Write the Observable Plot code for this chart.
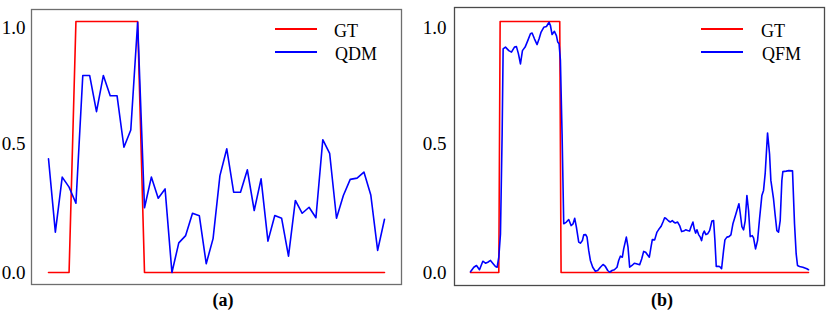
<!DOCTYPE html>
<html>
<head>
<meta charset="utf-8">
<script src="https://cdn.jsdelivr.net/npm/d3@7"></script>
<script src="https://cdn.jsdelivr.net/npm/@observablehq/plot@0.6"></script>
<style>
  body { margin: 0; background: white; }
  #wrap { position: relative; width: 831px; height: 317px; background: white; font-family: "Liberation Serif", serif; }
  .panel { position: absolute; top: 0; }
  .panel svg text { font-family: "Liberation Serif", serif !important; font-size: 19px !important; }
  .lg-line { position: absolute; height: 2px; width: 42px; }
  .lg-text { position: absolute; font-size: 18px; line-height: 18px; color: #000; white-space: nowrap; }
  .cap { position: absolute; font-family: "Liberation Serif", serif; font-size: 18px; line-height: 18px; font-weight: bold; transform: translateX(-50%); color: #000; }
</style>
</head>
<body>
<div id="wrap">
  <div id="pa" class="panel" style="left:0px"></div>
  <div id="pb" class="panel" style="left:415px"></div>

  <div class="lg-line" style="left:275px;top:28px;background:#ff0000"></div>
  <div class="lg-text" style="left:334px;top:22px">GT</div>
  <div class="lg-line" style="left:275px;top:51px;background:#0000ff"></div>
  <div class="lg-text" style="left:335px;top:45px">QDM</div>

  <div class="lg-line" style="left:701px;top:28px;background:#ff0000"></div>
  <div class="lg-text" style="left:761px;top:22px">GT</div>
  <div class="lg-line" style="left:701px;top:51px;background:#0000ff"></div>
  <div class="lg-text" style="left:762px;top:45px">QFM</div>

  <div class="cap" style="left:223px;top:291px">(a)</div>
  <div class="cap" style="left:662px;top:291px">(b)</div>
</div>
<script>
// ---------- Panel (a): GT vs QDM ----------
const framesA = d3.range(50);
const gtA = [0,0,0,0,1,1,1,1,1,1,1,1,1,1,0,0,0,0,0,0,0,0,0,0,0,0,0,0,0,0,0,0,0,0,0,0,0,0,0,0,0,0,0,0,0,0,0,0,0,0];
const qdm = [0.453,0.161,0.380,0.340,0.276,0.785,0.785,0.641,0.785,0.704,
             0.704,0.499,0.568,0.997,0.258,0.380,0.296,0.333,0.000,0.118,
             0.147,0.236,0.226,0.035,0.135,0.386,0.493,0.320,0.320,0.409,
             0.247,0.373,0.125,0.227,0.216,0.065,0.287,0.236,0.260,0.218,
             0.529,0.475,0.216,0.307,0.371,0.376,0.400,0.309,0.088,0.212];

// ---------- Panel (b): GT vs QFM ----------
const gtBFrames = [0, 17, 17.8, 53.6, 54.4, 203];
const gtB = [0, 0, 1, 1, 0, 0];
const qfmFrames = [0,2.0,3.6,5.4,7.4,9.0,10.4,12.0,13.6,15.0,16.0,17.0,18.0,19.0,19.6,21.0,23.0,24.6,26.4,27.6,
  28.8,30.0,31.2,32.8,34.4,36.0,37.0,38.4,40.0,41.2,42.4,44.0,45.6,47.2,48.0,49.0,50.4,51.6,52.4,53.2,
  54.0,55.0,56.0,57.6,59.0,60.4,61.6,62.6,63.6,65.0,66.0,67.2,68.0,69.2,70.0,71.0,72.0,73.4,75.0,76.4,
  78.0,79.6,81.0,82.4,83.6,85.0,86.4,88.0,89.0,90.0,91.2,92.0,93.6,94.6,95.6,97.0,98.4,99.6,101.6,102.8,
  104.0,105.2,106.4,107.4,108.4,109.2,110.6,112.0,113.2,114.4,115.6,116.6,117.6,119.0,120.0,121.2,122.0,123.0,124.4,125.6,
  126.8,128.0,129.2,130.4,131.6,132.4,133.6,134.4,135.2,136.0,137.0,138.0,138.8,139.6,140.4,141.4,142.4,143.6,145.0,146.0,
  146.8,147.6,148.6,149.6,150.8,152.0,152.8,154.0,155.2,156.4,157.6,158.8,160.0,161.2,162.0,163.0,164.0,165.0,166.0,167.0,
  168.0,169.2,170.0,171.2,172.4,173.6,175.0,176.0,177.0,178.4,179.6,180.4,182.0,183.0,184.0,185.0,186.0,187.0,187.6,189.6,
  191.2,193.4,194.6,195.6,196.4,197.6,199.6,202.0,203.0];
const qfm = [0.003,0.021,0.028,0.011,0.045,0.037,0.041,0.048,0.035,0.024,0.021,0.061,0.154,0.552,0.891,0.898,0.884,0.878,0.898,0.900,
  0.871,0.831,0.884,0.898,0.924,0.951,0.954,0.931,0.908,0.931,0.958,0.977,0.980,0.997,0.984,0.948,0.961,0.944,0.918,0.911,
  0.845,0.552,0.194,0.201,0.211,0.187,0.194,0.216,0.181,0.121,0.117,0.127,0.150,0.151,0.141,0.088,0.048,0.021,0.005,0.008,
  0.021,0.032,0.024,0.008,0.001,0.008,0.011,0.021,0.048,0.065,0.061,0.094,0.141,0.101,0.021,0.028,0.037,0.035,0.031,0.054,
  0.084,0.081,0.070,0.061,0.101,0.131,0.130,0.161,0.173,0.183,0.201,0.218,0.214,0.205,0.201,0.207,0.201,0.197,0.201,0.187,
  0.163,0.165,0.170,0.167,0.165,0.181,0.201,0.174,0.157,0.170,0.151,0.141,0.127,0.154,0.165,0.151,0.154,0.167,0.205,0.207,
  0.127,0.024,0.025,0.024,0.015,0.088,0.130,0.141,0.143,0.150,0.194,0.220,0.247,0.274,0.236,0.183,0.170,0.207,0.307,0.247,
  0.143,0.147,0.138,0.094,0.127,0.214,0.307,0.327,0.396,0.556,0.473,0.367,0.293,0.227,0.167,0.161,0.207,0.367,0.402,0.404,
  0.406,0.405,0.194,0.074,0.028,0.024,0.021,0.015,0.011];

const yTicks = [0, 0.5, 1.0];
const yTickShift = [0, -3, 6]; // label offsets as placed in the reference figure
const font = {fontFamily: "Liberation Serif, serif", fontSize: "19px", background: "white", color: "black"};

function axes(pad) {
  return yTicks.map((t, i) => Plot.axisY({
    ticks: [t], tickFormat: d3.format(".1f"), tickSize: 0, tickPadding: pad,
    fontSize: 19, fontFamily: "Liberation Serif", dy: yTickShift[i]
  }));
}

const chartA = Plot.plot({
  width: 415, height: 290,
  marginLeft: 31, marginRight: 14, marginTop: 9, marginBottom: 6,
  style: font,
  x: {domain: [0, 49], insetLeft: 17, insetRight: 17, axis: null},
  y: {domain: [0, 1], insetTop: 12, insetBottom: 12, axis: null},
  marks: [
    Plot.frame({stroke: "#6e6e6e", strokeWidth: 1.3}),
    ...axes(6),
    Plot.line(framesA, {x: d => d, y: (d, i) => gtA[i], stroke: "#ff0000", strokeWidth: 1.6}),
    Plot.line(framesA, {x: d => d, y: (d, i) => qdm[i], stroke: "#0000ff", strokeWidth: 1.6})
  ]
});
document.getElementById("pa").appendChild(chartA);

const chartB = Plot.plot({
  width: 416, height: 290,
  marginLeft: 39, marginRight: 7, marginTop: 7, marginBottom: 5,
  style: font,
  x: {domain: [0, 203], insetLeft: 16, insetRight: 16, axis: null},
  y: {domain: [0, 1], insetTop: 14, insetBottom: 13, axis: null},
  marks: [
    Plot.frame({stroke: "#4a4a4a", strokeWidth: 1.3}),
    ...axes(8),
    Plot.line(gtBFrames, {x: d => d, y: (d, i) => gtB[i], stroke: "#ff0000", strokeWidth: 1.6}),
    Plot.line(qfmFrames, {x: d => d, y: (d, i) => qfm[i], stroke: "#0000ff", strokeWidth: 1.6})
  ]
});
document.getElementById("pb").appendChild(chartB);
</script>
</body>
</html>
